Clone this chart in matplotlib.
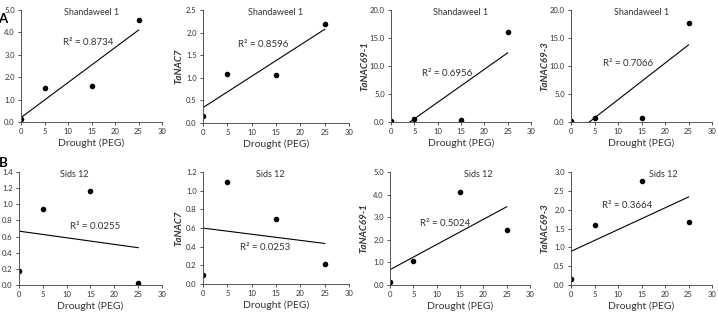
import numpy as np
import matplotlib
matplotlib.use("Agg")
import matplotlib.pyplot as plt
from matplotlib.ticker import FormatStrFormatter

plt.rcParams['font.family'] = ['Lato', 'DejaVu Sans']

# drought levels (PEG %)
drought = [0, 5, 15, 25]

# expression values
sh_nac29 = [0.15, 1.50, 1.62, 4.55]
sh_nac7 = [0.15, 1.08, 1.07, 2.18]
sh_nac69_1 = [0.10, 0.50, 0.40, 16.0]
sh_nac69_3 = [0.10, 0.70, 0.70, 17.7]
si_nac29 = [0.17, 0.94, 1.16, 0.03]
si_nac7 = [0.10, 1.09, 0.70, 0.21]
si_nac69_1 = [0.12, 1.04, 4.13, 2.43]
si_nac69_3 = [0.17, 1.59, 2.75, 1.66]

genes = ['TaNAC29', 'TaNAC7', 'TaNAC69-1', 'TaNAC69-3']
cultivars = ['Shandaweel 1', 'Sids 12']
series = [[sh_nac29, sh_nac7, sh_nac69_1, sh_nac69_3],
          [si_nac29, si_nac7, si_nac69_1, si_nac69_3]]
r2_labels = [['R² = 0.8734', 'R² = 0.8596', 'R² = 0.6956', 'R² = 0.7066'],
             ['R² = 0.0255', 'R² = 0.0253', 'R² = 0.5024', 'R² = 0.3664']]
ymax = [[5.0, 2.5, 20.0, 20.0], [1.4, 1.2, 5.0, 3.0]]
ystep = [[1.0, 0.5, 5.0, 5.0], [0.2, 0.2, 1.0, 0.5]]

# label positions in data coords
r2_pos = [[(14.3, 3.57), (12.3, 1.73), (12.0, 8.6), (12.1, 10.4)],
          [(15.9, 0.73), (12.7, 0.386), (11.8, 2.7), (11.9, 2.1)]]
title_x = [[15, 15, 15, 15], [11.7, 13.8, 18.9, 19.6]]

# axes boxes in pixels: left, top, right, bottom
boxes = [[(21, 10, 162, 122), (203, 10, 349, 123), (391, 10, 531, 122), (571, 10, 712, 122)],
         [(19, 172, 162, 285), (203, 172, 349, 284), (390, 172, 530, 285), (571, 172, 712, 285)]]
ylab_px = [19, 20, 22, 22]  # gap between y label centre and axis

W, H = 718, 312
fig = plt.figure(figsize=(W / 100, H / 100), dpi=100)

for r in range(2):
    for c in range(4):
        l, t, rr, b = boxes[r][c]
        ax = fig.add_axes([l / W, (H - b) / H, (rr - l) / W, (b - t) / H])
        y = np.array(series[r][c])
        x = np.array(drought)
        ax.plot(x, y, 'o', color='black', ms=3.0)
        k, b0 = np.polyfit(x, y, 1)
        xs = np.array([0, 25])
        ax.plot(xs, k * xs + b0, color='black', lw=0.8)
        ax.set_xlim(0, 30)
        ax.set_ylim(0, ymax[r][c])
        ax.set_xticks(range(0, 31, 5))
        ax.set_yticks(np.arange(0, ymax[r][c] + 1e-9, ystep[r][c]))
        ax.yaxis.set_major_formatter(FormatStrFormatter('%.1f'))
        for s in ['top', 'right']:
            ax.spines[s].set_visible(False)
        for s in ['left', 'bottom']:
            ax.spines[s].set_linewidth(0.7)
            ax.spines[s].set_color('#555555')
        ax.tick_params(labelsize=5.5, length=2.5, width=0.6, pad=2, colors='#333333')
        ax.set_xlabel('Drought (PEG)', fontsize=7.5, labelpad=2, color='#333333')
        ax.set_ylabel(genes[c], fontsize=7, fontstyle='italic', fontweight='bold', color='#333333')
        ax.yaxis.set_label_coords(-ylab_px[c] / (rr - l), 0.5)
        ax.text(title_x[r][c], ymax[r][c] * 0.975, cultivars[r], ha='center', va='center',
                fontsize=6.5, color='#333333')
        ax.text(r2_pos[r][c][0], r2_pos[r][c][1], r2_labels[r][c], ha='center', va='center',
                fontsize=7, color='#333333')

fig.text(-0.002, (H - 19) / H, 'A', fontsize=9.5, fontweight='bold', va='center', ha='left')
fig.text(-0.002, (H - 163) / H, 'B', fontsize=9.5, fontweight='bold', va='center', ha='left')

fig.savefig('out.png', dpi=100)
